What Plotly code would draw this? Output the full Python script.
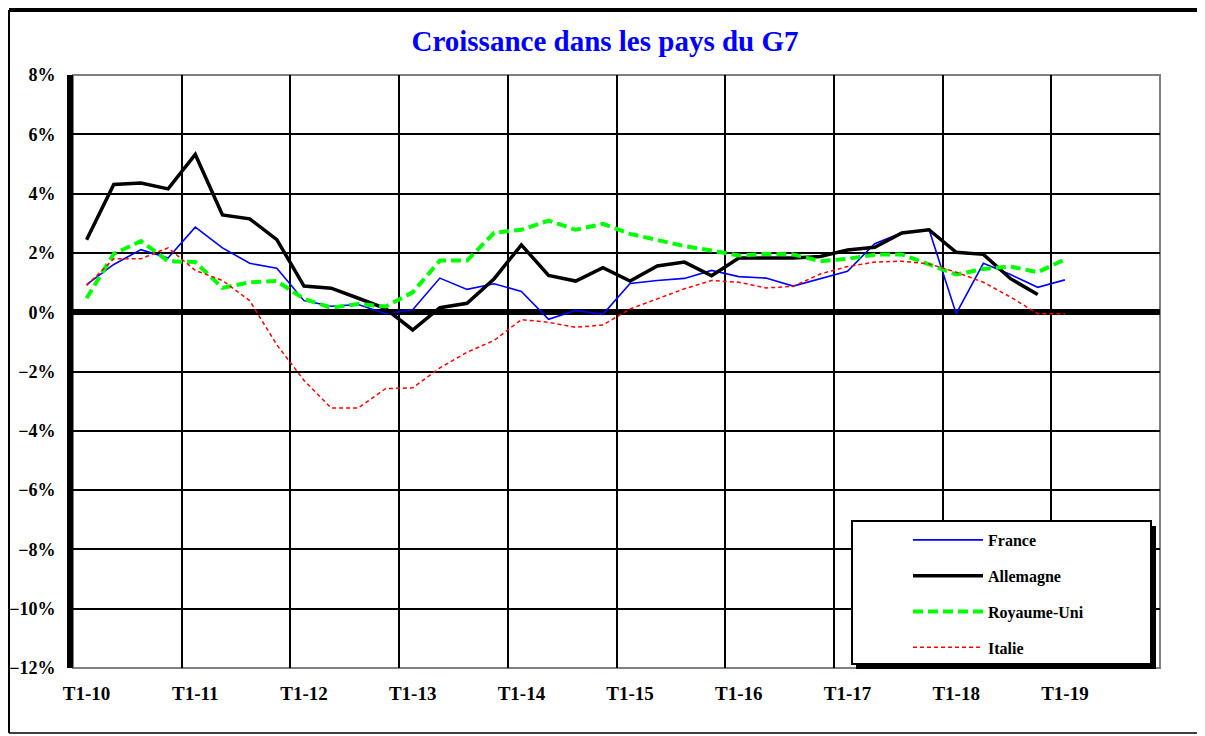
import plotly.graph_objects as go

# Trimestres T1-10 ... T4-19
quarters = [f"T{q}-{y}" for y in range(10, 20) for q in range(1, 5)]

france = [0.93, 1.61, 2.11, 1.83, 2.87, 2.17, 1.65, 1.48, 0.39, 0.20,
          0.26, -0.05, 0.08, 1.15, 0.77, 0.96, 0.70, -0.24, 0.06, -0.07,
          0.97, 1.07, 1.14, 1.41, 1.20, 1.15, 0.88, 1.13, 1.38, 2.31,
          2.68, 2.79, -0.05, 1.65, 1.27, 0.84, 1.09]

allemagne = [2.44, 4.31, 4.36, 4.16, 5.32, 3.28, 3.15, 2.45, 0.88, 0.81,
             0.47, 0.12, -0.60, 0.15, 0.30, 1.13, 2.27, 1.24, 1.05, 1.50,
             1.05, 1.56, 1.69, 1.23, 1.83, 1.83, 1.83, 1.88, 2.10, 2.19,
             2.67, 2.78, 2.02, 1.95, 1.13, 0.60]

royaume_uni = [0.47, 1.97, 2.40, 1.72, 1.69, 0.82, 1.01, 1.05, 0.45, 0.15,
               0.28, 0.19, 0.67, 1.74, 1.74, 2.68, 2.78, 3.09, 2.78, 2.98,
               2.64, 2.42, 2.23, 2.08, 1.91, 1.97, 1.95, 1.72, 1.80, 1.94,
               1.95, 1.61, 1.27, 1.46, 1.54, 1.35, 1.78]

italie = [0.90, 1.80, 1.80, 2.17, 1.41, 1.07, 0.39, -1.10, -2.30, -3.23,
          -3.23, -2.58, -2.55, -1.88, -1.35, -0.95, -0.25, -0.34, -0.51, -0.43,
          0.11, 0.45, 0.79, 1.07, 1.01, 0.82, 0.87, 1.29, 1.54, 1.69,
          1.72, 1.63, 1.35, 1.01, 0.51, -0.05, -0.05]

# géométrie (la page HTML décale la figure de 8 px)
OFF = 8
W, H = 1197, 728
L, R, T, B = 65, 45, 67, 68
PW, PH = W - L - R, H - T - B


def px(x):
    # x en pixels de la page -> coordonnée paper
    return (x - OFF - L) / PW


def py(y):
    # y en pixels de la page -> coordonnée paper
    return (H - B - (y - OFF)) / PH


FONT = "Liberation Serif, Times New Roman, serif"

fig = go.Figure()

series = [
    ("France", france, dict(color="#0000FF", width=1.6)),
    ("Allemagne", allemagne, dict(color="#000000", width=3.5)),
    ("Royaume-Uni", royaume_uni, dict(color="#00FF00", width=4, dash="10px,5px")),
    ("Italie", italie, dict(color="#FF0000", width=1.5, dash="4px,3px")),
]
for name, vals, line in series:
    fig.add_trace(go.Scatter(
        x=quarters[:len(vals)],
        y=vals,
        mode="lines",
        name=name,
        legendgroup=name,
        line=line,
    ))

shapes = [
    # cadre gris de la zone de tracé
    dict(type="rect", xref="paper", yref="paper", x0=0, x1=1, y0=0, y1=1,
         line=dict(color="#808080", width=2), layer="between"),
    # ombre + cadre de la légende
    dict(type="rect", xref="paper", yref="paper",
         x0=px(856), x1=px(1156), y0=py(669), y1=py(526),
         fillcolor="black", line=dict(width=0), layer="above"),
    dict(type="rect", xref="paper", yref="paper",
         x0=px(852), x1=px(1151), y0=py(664), y1=py(521),
         fillcolor="white", line=dict(color="black", width=2), layer="above"),
    # cadre extérieur
    dict(type="line", xref="paper", yref="paper", x0=px(9), x1=px(1201), y0=py(10), y1=py(10),
         line=dict(color="black", width=4)),
    dict(type="line", xref="paper", yref="paper", x0=px(9), x1=px(9), y0=py(10), y1=py(733),
         line=dict(color="black", width=2)),
    dict(type="line", xref="paper", yref="paper", x0=px(9), x1=px(1201), y0=py(733), y1=py(733),
         line=dict(color="black", width=1.5)),
    dict(type="line", xref="paper", yref="paper", x0=px(1201), x1=px(1201), y0=py(10), y1=py(733),
         line=dict(color="#808080", width=1.5)),
]

fig.update_layout(
    width=W,
    height=H,
    margin=dict(l=L, r=R, t=T, b=B, autoexpand=False),
    paper_bgcolor="white",
    plot_bgcolor="white",
    title=dict(
        text="Croissance dans les pays du G7",
        font=dict(family=FONT, size=29, color="#0000FF", weight="bold"),
        x=(605 - OFF) / W, xref="container", xanchor="center",
        y=1 - (41 - OFF) / H, yanchor="middle",
    ),
    xaxis=dict(
        type="category",
        categoryorder="array",
        categoryarray=quarters,
        range=[-0.5, len(quarters) - 0.5],
        tickson="boundaries",
        tick0=0,
        dtick=4,
        tickangle=0,
        ticks="",
        showgrid=True,
        gridcolor="black",
        gridwidth=1.5,
        showline=False,
        zeroline=False,
        automargin=False,
        tickfont=dict(family=FONT, size=19, color="black", weight="bold"),
        ticklabelstandoff=12,
        fixedrange=True,
    ),
    yaxis=dict(
        range=[-12, 8],
        dtick=2,
        ticksuffix="%",
        ticks="",
        showgrid=True,
        gridcolor="black",
        gridwidth=1.5,
        zeroline=True,
        zerolinecolor="black",
        zerolinewidth=6,
        showline=True,
        linecolor="black",
        linewidth=6,
        automargin=False,
        tickfont=dict(family=FONT, size=18, color="black", weight="bold"),
        ticklabelstandoff=8,
        fixedrange=True,
    ),
    legend=dict(
        x=px(908), y=py(523),
        xanchor="left", yanchor="top",
        bgcolor="rgba(0,0,0,0)",
        borderwidth=0,
        font=dict(family=FONT, size=16, color="black", weight="bold"),
        itemwidth=70,
        tracegroupgap=12,
        traceorder="grouped",
    ),
    shapes=shapes,
)

fig.write_html("out.html")
